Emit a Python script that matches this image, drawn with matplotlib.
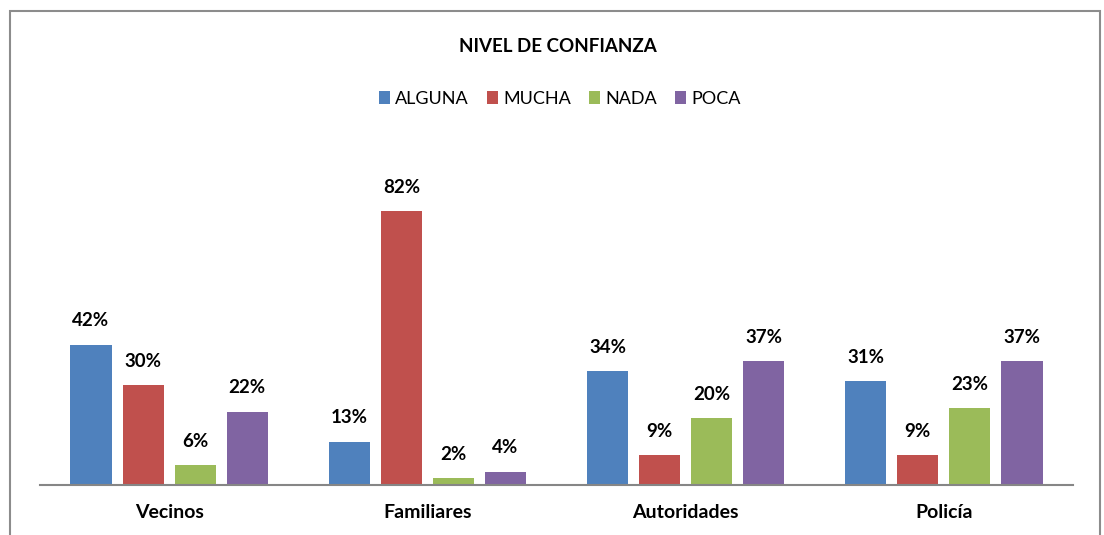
import numpy as np
import matplotlib
matplotlib.use("Agg")
import matplotlib.pyplot as plt
from matplotlib.patches import Rectangle

plt.rcParams['font.family'] = ['Lato', 'DejaVu Sans']

categories = ["Vecinos", "Familiares", "Autoridades", "Policía"]
series_names = ["ALGUNA", "MUCHA", "NADA", "POCA"]
alguna = [42, 13, 34, 31]
mucha = [30, 82, 9, 9]
nada = [6, 2, 20, 23]
poca = [22, 4, 37, 37]
colors = ["#4F81BD", "#C0504D", "#9BBB59", "#8064A2"]

fig = plt.figure(figsize=(11.04, 5.35), dpi=100)
ax = fig.add_axes([40 / 1104, 1 - 485 / 535, 1033 / 1104, 300.6 / 535])

# chart border (bottom cut off like the reference)
fig.patches.append(Rectangle((10 / 1104, -0.05), 1090 / 1104, 1.05 - 11 / 535,
                             transform=fig.transFigure, fill=False,
                             edgecolor="#8C8C8C", linewidth=1.5))

x = np.arange(len(categories))
width = 0.159
step = 0.2016
data = [alguna, mucha, nada, poca]
for i, (name, vals) in enumerate(zip(series_names, data)):
    pos = x + (i - 1.5) * step
    bars = ax.bar(pos, vals, width, color=colors[i], label=name)
    for b, v in zip(bars, vals):
        ax.annotate(f"{v}%", (b.get_x() + b.get_width() / 2, v),
                    xytext=(0, 11), textcoords="offset points",
                    ha="center", va="bottom", fontsize=13.5, fontweight="bold")

ax.set_xlim(-0.5, len(categories) - 0.5)
ax.set_ylim(0, 90)
ax.set_yticks([])
ax.set_xticks(x)
ax.set_xticklabels(categories, fontsize=14, fontweight="bold")
ax.tick_params(axis="x", length=0, pad=14)
for s in ["top", "right", "left"]:
    ax.spines[s].set_visible(False)
ax.spines["bottom"].set_color("#868686")
ax.spines["bottom"].set_linewidth(1.5)

fig.text(0.505, 1 - 46 / 535, "NIVEL DE CONFIANZA", ha="center", va="center",
         fontsize=13.5, fontweight="bold")
fig.legend(loc="center", bbox_to_anchor=(0.507, 1 - 99 / 535), ncol=4,
           frameon=False, fontsize=13, handlelength=0.6, handleheight=0.7,
           handletextpad=0.3, columnspacing=1.0)

fig.savefig("out.png", dpi=100)
